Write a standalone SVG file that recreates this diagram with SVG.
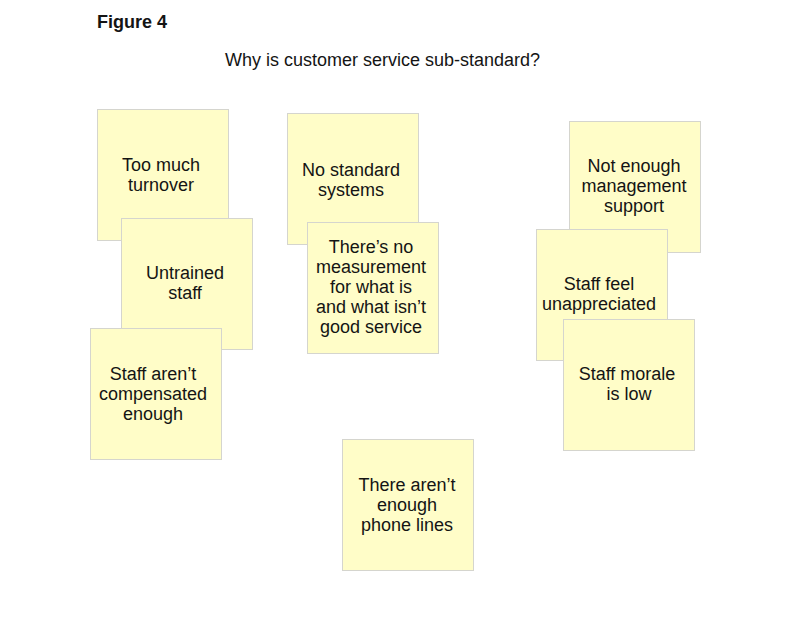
<svg xmlns="http://www.w3.org/2000/svg" width="796" height="627" viewBox="0 0 796 627">
<style>
.note rect{fill:#FFFDC8;stroke:#D5D5CE;stroke-width:1}
.note text{font-family:"Liberation Sans",Arial,sans-serif;font-size:18px;fill:#141414;text-anchor:middle}
.title{font-family:"Liberation Sans",Arial,sans-serif;font-size:18px;fill:#141414}
</style>
<rect width="796" height="627" fill="#fff"/>
<text class="title" x="97" y="28" font-weight="bold">Figure 4</text>
<text class="title" x="225" y="66">Why is customer service sub-standard?</text>
<g id="n1" class="note"><rect x="97.5" y="109.5" width="131" height="131"/>
<text x="161" y="171">Too much</text><text x="161" y="191">turnover</text></g>
<g id="n2" class="note"><rect x="121.5" y="218.5" width="131" height="131"/>
<text x="185" y="279">Untrained</text><text x="185" y="299">staff</text></g>
<g id="n3" class="note"><rect x="90.5" y="328.5" width="131" height="131"/>
<text x="153" y="380">Staff aren’t</text><text x="153" y="400">compensated</text><text x="153" y="420">enough</text></g>
<g id="n4" class="note"><rect x="287.5" y="113.5" width="131" height="131"/>
<text x="351" y="176">No standard</text><text x="351" y="196">systems</text></g>
<g id="n5" class="note"><rect x="307.5" y="222.5" width="131" height="131"/>
<text x="371" y="253">There’s no</text><text x="371" y="273">measurement</text><text x="371" y="293">for what is</text><text x="371" y="313">and what isn’t</text><text x="371" y="333">good service</text></g>
<g id="n6" class="note"><rect x="569.5" y="121.5" width="131" height="131"/>
<text x="634" y="172">Not enough</text><text x="634" y="192">management</text><text x="634" y="212">support</text></g>
<g id="n7" class="note"><rect x="536.5" y="229.5" width="131" height="131"/>
<text x="599" y="290">Staff feel</text><text x="599" y="310">unappreciated</text></g>
<g id="n8" class="note"><rect x="563.5" y="319.5" width="131" height="131"/>
<text x="627" y="380">Staff morale</text><text x="629" y="400">is low</text></g>
<g id="n9" class="note"><rect x="342.5" y="439.5" width="131" height="131"/>
<text x="407" y="491">There aren’t</text><text x="407" y="511">enough</text><text x="407" y="531">phone lines</text></g>
<g id="connectors"></g>
</svg>
